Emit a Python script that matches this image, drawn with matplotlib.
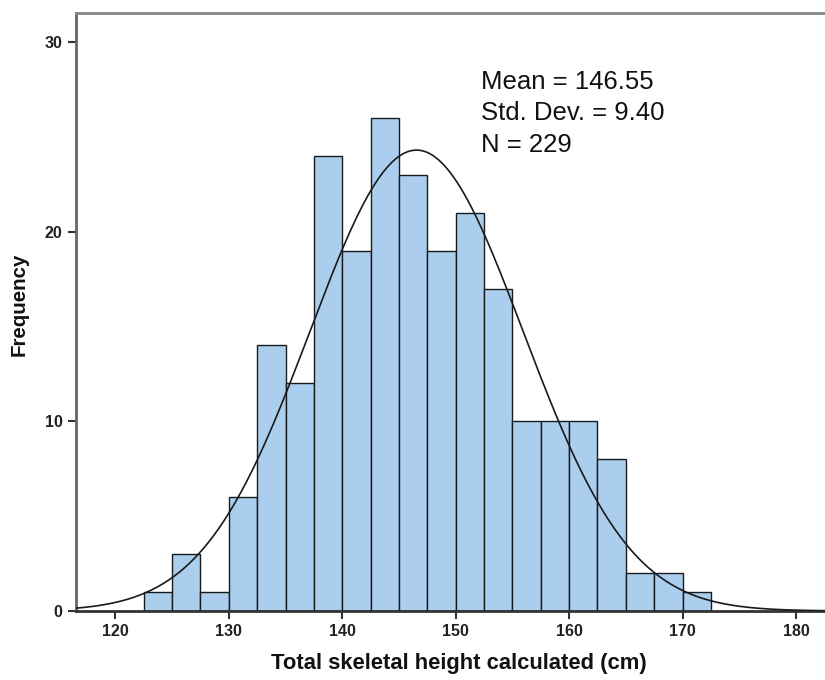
# -*- coding: utf-8 -*-
import matplotlib.pyplot as plt
import numpy as np

plt.rcParams['font.family'] = ['Liberation Sans', 'DejaVu Sans']

# Histogram bins (cm) and counts
bin_edges = np.arange(122.5, 172.5 + 0.1, 2.5)
counts = [1, 3, 1, 6, 14, 12, 24, 19, 26, 23, 19, 21, 17, 10, 10, 10, 8, 2, 2, 1]

mean = 146.55
std = 9.40
n = 229
bin_width = 2.5

x_ticks = [120, 130, 140, 150, 160, 170, 180]
y_ticks = [0, 10, 20, 30]

fig = plt.figure(figsize=(8.25, 6.8), dpi=100)
ax = fig.add_axes([0.092, 0.1015, 0.908, 0.8795])

# Bars
ax.bar(bin_edges[:-1], counts, width=bin_width, align='edge',
       color='#abcdee', edgecolor='#1a1a1a', linewidth=1.0, zorder=2)

# Normal curve scaled to counts
xs = np.linspace(116.5, 182.6, 400)
pdf = n * bin_width / (std * np.sqrt(2 * np.pi)) * np.exp(-0.5 * ((xs - mean) / std) ** 2)
ax.plot(xs, pdf, color='#1a1a1a', linewidth=1.2, zorder=3)

ax.set_xlim(116.52, 182.56)
ax.set_ylim(0, 31.53)
ax.set_xticks(x_ticks)
ax.set_yticks(y_ticks)
ax.tick_params(axis='both', direction='out', length=6, width=1.5, colors='#333333',
               labelsize=11.5, labelcolor='#222222')
for lbl in ax.get_xticklabels() + ax.get_yticklabels():
    lbl.set_fontweight('bold')

ax.spines['right'].set_visible(False)
ax.spines['top'].set_color('#888888')
ax.spines['top'].set_linewidth(2)
ax.spines['left'].set_color('#666666')
ax.spines['left'].set_linewidth(2)
ax.spines['bottom'].set_color('#333333')
ax.spines['bottom'].set_linewidth(2)

ax.set_xlabel('Total skeletal height calculated (cm)', fontsize=15.8, fontweight='bold',
              color='#111111')
ax.set_ylabel('Frequency', fontsize=14.8, fontweight='bold', color='#111111')
ax.xaxis.set_label_coords(0.511, -0.071)
ax.yaxis.set_label_coords(-0.063, 0.513)

stats = 'Mean = %.2f\nStd. Dev. = %.2f\nN = %d' % (mean, std, n)
ax.text(0.541, 0.905, stats, transform=ax.transAxes, fontsize=18.5, va='top', ha='left',
        linespacing=1.4, color='#111111')

plt.savefig('out.png', dpi=100)
